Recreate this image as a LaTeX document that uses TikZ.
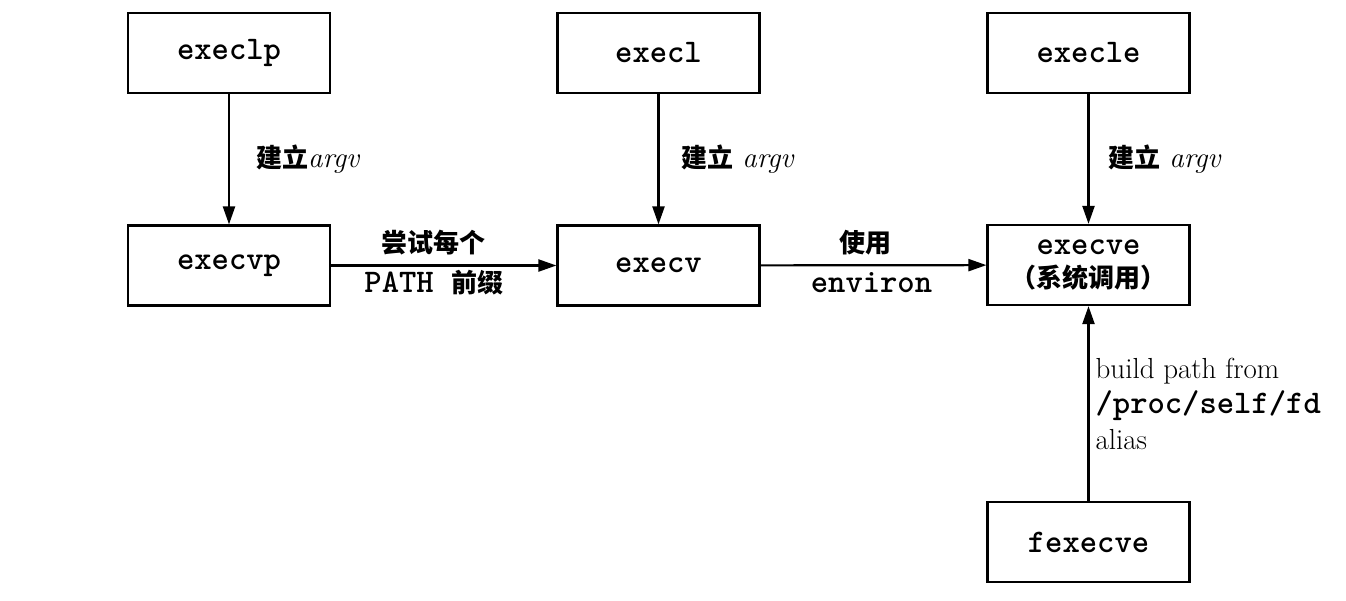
\documentclass[tikz,border=0pt]{standalone}
\usepackage{fontspec}
\newfontfamily\cjk{Noto Sans CJK SC}
\usetikzlibrary{arrows.meta}
\begin{document}
\begin{tikzpicture}[x=1pt,y=-1pt,
  box/.style={draw,line width=2.2pt,minimum width=202pt,minimum height=80pt,inner sep=0pt,
    font=\fontsize{33}{33}\selectfont\ttfamily\bfseries,align=center},
  conn/.style={line width=2.2pt,-{Triangle[length=18pt,width=12pt]}},
  lbl/.style={font=\fontsize{29}{34}\selectfont,inner sep=0pt},
  cn/.style={font=\fontsize{26}{30}\selectfont\cjk\bfseries,inner sep=0pt},
  tt/.style={font=\fontsize{33}{33}\selectfont\ttfamily\bfseries,inner sep=0pt}]
\useasboundingbox (0,0) rectangle (1346,600);
\node[box] (execlp) at (229,53) {execlp};
\node[box] (execl) at (658.5,53) {execl};
\node[box] (execle) at (1088.5,53) {execle};
\node[box] (execvp) at (229,265.5) {execvp};
\node[box] (execv) at (658.5,265.5) {execv};
\node[box] (execve) at (1088.5,265) {execve\\[0pt]{\fontsize{26}{30}\selectfont\cjk\bfseries （系统调用）}};
\node[box] (fexecve) at (1088.5,542) {fexecve};

\draw[conn] (execlp) -- node[lbl,midway,anchor=west,xshift=26pt]{{\cjk\bfseries\fontsize{26}{30}\selectfont 建立}\textit{argv}} (execvp);
\draw[conn] (execl) -- node[lbl,midway,anchor=west,xshift=22pt]{{\cjk\bfseries\fontsize{26}{30}\selectfont 建立} \textit{argv}} (execv);
\draw[conn] (execle) -- node[lbl,midway,anchor=west,xshift=19pt]{{\cjk\bfseries\fontsize{26}{30}\selectfont 建立} \textit{argv}} (execve);

\draw[conn] (execvp) -- node[cn,midway,xshift=-10pt,yshift=23pt]{尝试每个}
  node[tt,midway,xshift=-10pt,yshift=-17pt]{PATH {\fontsize{26}{30}\selectfont\cjk\bfseries 前缀}} (execv);
\draw[conn] (execv) -- node[cn,midway,xshift=-8pt,yshift=23pt]{使用}
  node[tt,midway,xshift=-2pt,yshift=-17pt]{environ} (execve);

\draw[conn] (fexecve) -- node[lbl,midway,anchor=west,xshift=6pt,align=left,font=\fontsize{29}{35.5}\selectfont]{build path from\\{\fontsize{33}{33}\selectfont\ttfamily\bfseries /proc/self/fd}\\alias} (execve);
\end{tikzpicture}
\end{document}
